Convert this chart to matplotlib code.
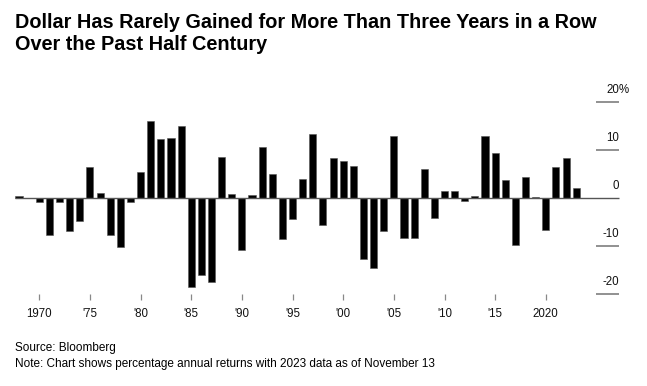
import numpy as np
import matplotlib.pyplot as plt
from matplotlib.transforms import offset_copy

plt.rcParams['font.family'] = ['Liberation Sans', 'DejaVu Sans']

# Annual returns of the dollar, percent
years = list(range(1968, 2024))
returns = [
    0.3, -0.1, -0.8, -7.8, -0.9, -7.0, -4.9, 6.4, 1.0, -7.8,
    -10.3, -0.8, 5.3, 15.9, 12.2, 12.4, 15.0, -18.5, -16.1, -17.6,
    8.4, 0.7, -10.8, 0.5, 10.6, 4.9, -8.5, -4.5, 4.0, 13.2,
    -5.6, 8.2, 7.6, 6.6, -12.8, -14.7, -7.0, 12.8, -8.3, -8.3,
    6.0, -4.2, 1.5, 1.5, -0.6, 0.3, 12.8, 9.3, 3.7, -9.9,
    4.4, 0.2, -6.7, 6.3, 8.2, 2.1,
]
tick_years = [1970, 1975, 1980, 1985, 1990, 1995, 2000, 2005, 2010, 2015, 2020]
tick_labels = ['1970', "'75", "'80", "'85", "'90", "'95", "'00", "'05", "'10", "'15", '2020']
y_levels = [20, 10, 0, -10, -20]
y_texts = ['20', '10', '0', '-10', '-20']

W, H = 647, 386
fig = plt.figure(figsize=(W / 100, H / 100), dpi=100)

# axes laid out in pixels
top_px, bot_px = 90, 300
ax = fig.add_axes([0, 1 - bot_px / H, 1, (bot_px - top_px) / H])
px_per_year = 10.13
x0 = 1970 - 39.3 / px_per_year
ax.set_xlim(x0, x0 + W / px_per_year)
zero_px, px_per_pct = 197.7, 4.8
ax.set_ylim(-(bot_px - zero_px) / px_per_pct, (zero_px - top_px) / px_per_pct)

ax.bar(years, returns, width=0.7, color='black', edgecolor='#555555', linewidth=0.4, zorder=2)

grid_x0 = x0 + 596 / px_per_year
grid_x1 = x0 + 619 / px_per_year
ax.hlines(0, x0 + 15 / px_per_year, grid_x1, color='#555555', lw=1, zorder=3)
for lv in [20, 10, -10, -20]:
    ax.hlines(lv, grid_x0, grid_x1, color='#888888', lw=1.3, zorder=3)

lab_tr = offset_copy(ax.transData, fig=fig, x=0, y=6, units='points')
for lv, t in zip(y_levels, y_texts):
    ax.text(grid_x1, lv, t, transform=lab_tr, ha='right', va='baseline', fontsize=8.3, color='#111111')
ax.text(grid_x1, 20, '%', transform=lab_tr, ha='left', va='baseline', fontsize=8.3, color='#111111')

ax.set_xticks(tick_years)
ax.set_xticklabels(tick_labels)
ax.set_yticks([])
ax.tick_params(axis='x', direction='in', length=4.5, width=0.9, color='#888888',
               pad=5.5, labelsize=8.3, labelcolor='#111111')
for s in ax.spines.values():
    s.set_visible(False)
ax.patch.set_alpha(0)

# title and footer
fig.text(15 / W, 1 - 27.5 / H, 'Dollar Has Rarely Gained for More Than Three Years in a Row',
         fontsize=14.3, fontweight='bold', va='baseline', ha='left')
fig.text(15 / W, 1 - 50 / H, 'Over the Past Half Century',
         fontsize=14.3, fontweight='bold', va='baseline', ha='left')
fig.text(15 / W, 1 - 351.5 / H, 'Source: Bloomberg', fontsize=8.5, va='baseline', ha='left')
fig.text(15 / W, 1 - 366.5 / H, 'Note: Chart shows percentage annual returns with 2023 data as of November 13',
         fontsize=8.5, va='baseline', ha='left')

fig.savefig('out.png', dpi=100)
